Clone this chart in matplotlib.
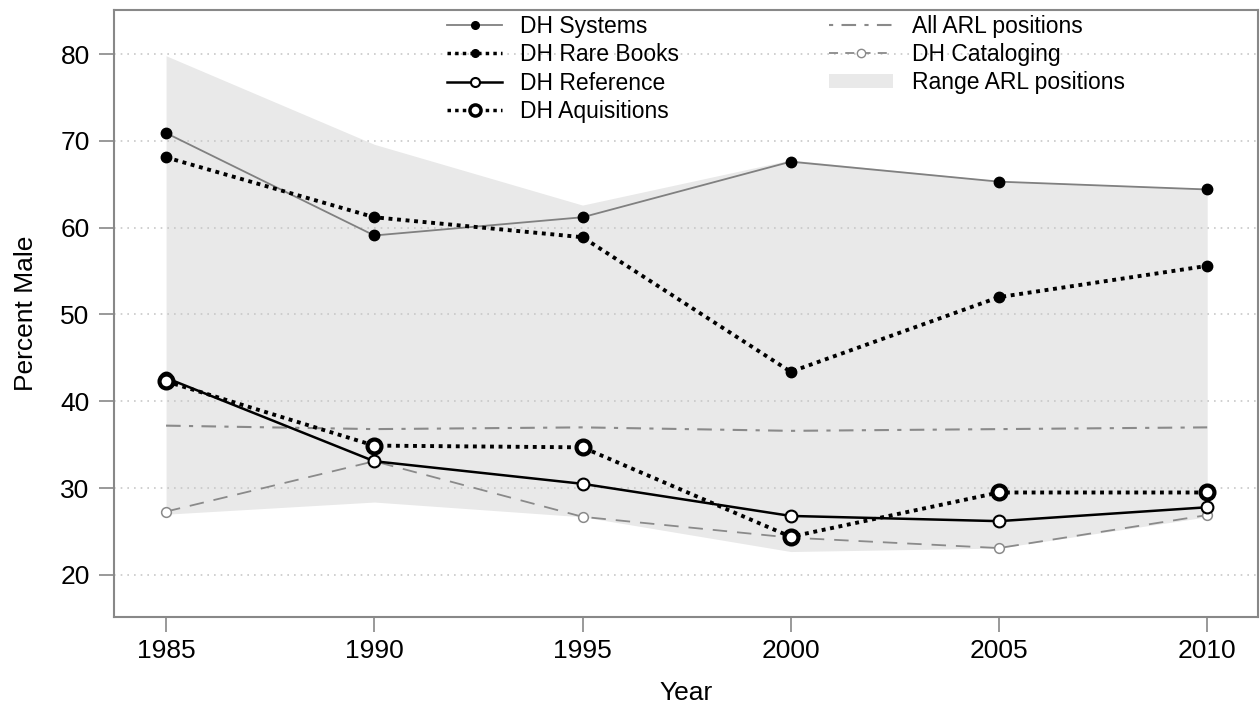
import matplotlib
matplotlib.use("Agg")
import matplotlib.pyplot as plt
from matplotlib.patches import Patch
from matplotlib.lines import Line2D

plt.rcParams['font.family'] = ['Liberation Sans', 'DejaVu Sans']

years = [1985, 1990, 1995, 2000, 2005, 2010]
dh_systems = [70.9, 59.1, 61.2, 67.6, 65.3, 64.4]
dh_rare_books = [68.1, 61.2, 58.9, 43.4, 52.0, 55.6]
dh_reference = [42.7, 33.1, 30.5, 26.8, 26.2, 27.8]
dh_aquisitions = [42.3, 34.9, 34.7, 24.4, 29.5, 29.5]
all_arl = [37.2, 36.8, 37.0, 36.6, 36.8, 37.0]
dh_cataloging = [27.3, 33.1, 26.7, 24.3, 23.1, 26.9]
range_low = [27.0, 28.4, 26.7, 22.7, 23.1, 26.7]
range_high = [79.8, 69.6, 62.6, 67.8, 65.4, 64.5]
y_ticks = [20, 30, 40, 50, 60, 70, 80]
x_ticks = [1985, 1990, 1995, 2000, 2005, 2010]

W, H = 1260, 703
fig = plt.figure(figsize=(W / 100, H / 100), dpi=100)
ax = fig.add_axes([114 / W, 1 - 617 / H, (1258 - 114) / W, (617 - 10) / H])

band_color = '#e9e9e9'
arl_dash = (0, (7, 4, 2, 4))
cat_dash = (0, (8, 5.5))
dot = (0, (1, 1.2))

ax.fill_between(years, range_low, range_high, color=band_color, lw=0, zorder=1)
for yt in y_ticks:
    ax.axhline(yt, color='#c8c8c8', lw=1.2, ls=(0, (1, 3)), zorder=1.5)

ax.plot(years, all_arl, color='#8a8a8a', lw=1.5, ls=arl_dash, zorder=2)
ax.plot(years, dh_cataloging, color='#8a8a8a', lw=1.3, ls=cat_dash,
        marker='o', ms=7, mfc='white', mec='#8a8a8a', mew=1.1, zorder=3)
ax.plot(years, dh_systems, color='#808080', lw=1.3, ls='-',
        marker='o', ms=7.5, mfc='black', mec='black', zorder=4)
ax.plot(years, dh_rare_books, color='black', lw=2.8, ls=dot,
        marker='o', ms=7.5, mfc='black', mec='black', zorder=4)
ax.plot(years, dh_reference, color='black', lw=1.8, ls='-',
        marker='o', ms=8.5, mfc='white', mec='black', mew=1.5, zorder=5)
ax.plot(years, dh_aquisitions, color='black', lw=2.8, ls=dot,
        marker='o', ms=10, mfc='white', mec='black', mew=3, zorder=5)

ax.set_xlim(1983.75, 2011.22)
ax.set_ylim(15.16, 85.07)
ax.set_xticks(x_ticks)
ax.set_yticks(y_ticks)
ax.tick_params(axis='both', direction='out', length=10.5, width=1.2, color='#888888',
               labelsize=19)
ax.tick_params(axis='x', pad=5)
ax.tick_params(axis='y', pad=7)
for s in ax.spines.values():
    s.set_color('#888888')
    s.set_linewidth(1.5)
ax.set_xlabel('Year', fontsize=19, labelpad=13)
ax.set_ylabel('Percent Male', fontsize=19, labelpad=16)

handles1 = [
    Line2D([], [], color='#808080', lw=1.3, marker='o', ms=5.5, mfc='black', mec='black'),
    Line2D([], [], color='black', lw=2.5, ls=dot, marker='o', ms=5.5, mfc='black', mec='black'),
    Line2D([], [], color='black', lw=1.8, marker='o', ms=6.5, mfc='white', mec='black', mew=1.5),
    Line2D([], [], color='black', lw=2.5, ls=dot, marker='o', ms=8, mfc='white', mec='black', mew=2.5),
]
labels1 = ['DH Systems', 'DH Rare Books', 'DH Reference', 'DH Aquisitions']
handles2 = [
    Line2D([], [], color='#8a8a8a', lw=1.5, ls=(0, (2, 4, 7, 4))),
    Line2D([], [], color='#8a8a8a', lw=1.3, ls=(0, (5, 4)), marker='o', ms=6, mfc='white', mec='#8a8a8a'),
    Patch(facecolor=band_color, edgecolor='none'),
]
labels2 = ['All ARL positions', 'DH Cataloging', 'Range ARL positions']

common = dict(loc='upper left', frameon=False, fontsize=16.5, labelspacing=0.24,
              borderpad=0, borderaxespad=0, handleheight=0.55)
leg1 = fig.legend(handles1, labels1, bbox_to_anchor=(447 / W, 1 - 14.5 / H),
                  handlelength=2.4, handletextpad=0.8, **common)
leg2 = fig.legend(handles2, labels2, bbox_to_anchor=(829 / W, 1 - 14.5 / H),
                  handlelength=2.8, handletextpad=0.8, **common)

fig.savefig('out.png', dpi=100)
